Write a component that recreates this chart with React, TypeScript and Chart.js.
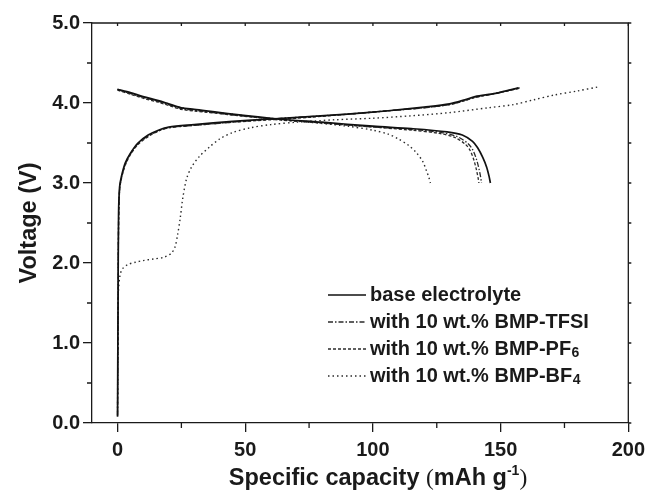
import { useEffect, useRef } from 'react';
import { Chart, registerables } from 'chart.js';

Chart.register(...registerables);

const FONT = '"Liberation Sans", Arial, Helvetica, sans-serif';
const INK = '#1a1a1a';

// Axis ticks
const capacityTicks = [0, 50, 100, 150, 200];
const capacityMinorTicks = [25, 75, 125, 175];
const voltageTicks = [0, 1, 2, 3, 4, 5];
const voltageMinorTicks = [0.5, 1.5, 2.5, 3.5, 4.5];

// Base electrolyte
const baseChargeCap = [0, 0.2, 0.4, 0.8, 1.5, 3, 5, 8, 12, 16, 20, 30, 45, 60, 75, 90, 105, 120, 130, 136, 140, 148, 157];
const baseChargeV = [0.08, 1.5, 2.6, 2.95, 3.08, 3.25, 3.37, 3.5, 3.6, 3.66, 3.7, 3.73, 3.77, 3.8, 3.83, 3.86, 3.9, 3.95, 3.99, 4.04, 4.08, 4.12, 4.19];
const baseDischargeCap = [0, 5, 10, 16, 20, 25, 30, 45, 63, 80, 100, 115, 129, 135, 139, 141, 143, 144.5, 145.5, 146];
const baseDischargeV = [4.17, 4.13, 4.08, 4.03, 3.99, 3.94, 3.92, 3.86, 3.8, 3.76, 3.71, 3.68, 3.64, 3.6, 3.52, 3.44, 3.32, 3.2, 3.08, 3.0];

// with 10 wt.% BMP-TFSI
const tfsiChargeCap = [0, 0.2, 0.4, 0.8, 1.5, 3, 5, 8, 12, 16, 20, 30, 45, 60, 75, 90, 105, 120, 130, 136, 140, 148, 157.5];
const tfsiChargeV = [0.1, 1.4, 2.5, 2.92, 3.06, 3.23, 3.36, 3.49, 3.59, 3.65, 3.69, 3.72, 3.76, 3.8, 3.83, 3.86, 3.9, 3.94, 3.98, 4.03, 4.07, 4.12, 4.19];
const tfsiDischargeCap = [0, 5, 10, 16, 20, 25, 30, 45, 63, 80, 100, 115, 127, 133, 137, 139, 140.5, 141.5, 142.2, 142.5];
const tfsiDischargeV = [4.17, 4.12, 4.07, 4.02, 3.98, 3.93, 3.91, 3.85, 3.8, 3.75, 3.7, 3.67, 3.63, 3.58, 3.5, 3.42, 3.3, 3.18, 3.07, 3.0];

// with 10 wt.% BMP-PF6
const pf6ChargeCap = [0, 0.2, 0.4, 0.8, 1.5, 3, 5, 8, 12, 16, 20, 30, 45, 60, 75, 90, 105, 120, 130, 136, 140, 148, 157];
const pf6ChargeV = [0.1, 1.3, 2.45, 2.9, 3.05, 3.22, 3.35, 3.48, 3.58, 3.65, 3.69, 3.72, 3.76, 3.79, 3.82, 3.86, 3.9, 3.94, 3.98, 4.03, 4.07, 4.12, 4.18];
const pf6DischargeCap = [0, 5, 10, 16, 20, 25, 30, 45, 63, 80, 100, 115, 126, 132, 136, 138, 139.5, 140.5, 141.2, 141.5];
const pf6DischargeV = [4.16, 4.11, 4.06, 4.01, 3.97, 3.92, 3.9, 3.85, 3.79, 3.75, 3.7, 3.66, 3.62, 3.57, 3.49, 3.41, 3.29, 3.17, 3.06, 3.0];

// with 10 wt.% BMP-BF4
const bf4ChargeCap = [0, 0.3, 1, 2, 4, 7, 10, 14, 18, 21, 22.5, 23.5, 24.5, 25.5, 27, 29, 32, 36, 40, 45, 52, 60, 70, 85, 100, 115, 130, 145, 155, 163, 171, 180, 188];
const bf4ChargeV = [0.08, 1.6, 1.85, 1.93, 1.98, 2.01, 2.03, 2.05, 2.07, 2.12, 2.2, 2.35, 2.55, 2.8, 3.05, 3.2, 3.33, 3.45, 3.55, 3.63, 3.69, 3.73, 3.76, 3.79, 3.81, 3.84, 3.88, 3.94, 3.98, 4.04, 4.1, 4.15, 4.2];
const bf4DischargeCap = [0, 10, 20, 30, 45, 60, 75, 90, 100, 106, 110, 114, 117, 119.5, 121, 122, 122.5];
const bf4DischargeV = [4.17, 4.07, 3.98, 3.91, 3.86, 3.8, 3.76, 3.71, 3.66, 3.61, 3.55, 3.47, 3.38, 3.27, 3.15, 3.06, 3.0];

const legendLabels = ['base electrolyte', 'with 10 wt.% BMP-TFSI', 'with 10 wt.% BMP-PF', 'with 10 wt.% BMP-BF'];
const legendSubscripts = ['', '', '6', '4'];

const styles = [
  { color: '#111111', width: 1.7, dash: [] as number[] },
  { color: '#2a2a2a', width: 1.3, dash: [5, 2, 1.5, 2] },
  { color: '#2a2a2a', width: 1.3, dash: [3, 2] },
  { color: '#2a2a2a', width: 1.4, dash: [1.5, 3] },
];

const pts = (c: number[], v: number[]) => c.map((x, i) => ({ x, y: v[i] }));

const seriesData = [
  [pts(baseChargeCap, baseChargeV), pts(baseDischargeCap, baseDischargeV)],
  [pts(tfsiChargeCap, tfsiChargeV), pts(tfsiDischargeCap, tfsiDischargeV)],
  [pts(pf6ChargeCap, pf6ChargeV), pts(pf6DischargeCap, pf6DischargeV)],
  [pts(bf4ChargeCap, bf4ChargeV), pts(bf4DischargeCap, bf4DischargeV)],
];

const decorPlugin = {
  id: 'decor',
  afterDraw(chart: any) {
    const ctx = chart.ctx as CanvasRenderingContext2D;
    const { left, right, top, bottom } = chart.chartArea;
    const xs = chart.scales.x;
    const ys = chart.scales.y;
    ctx.save();
    ctx.strokeStyle = INK;
    ctx.lineWidth = 1.3;
    // top and right frame
    ctx.beginPath();
    ctx.moveTo(left, top);
    ctx.lineTo(right, top);
    ctx.lineTo(right, bottom);
    ctx.stroke();
    // minor ticks (outside) left & bottom
    ctx.beginPath();
    voltageMinorTicks.forEach((v) => {
      const y = ys.getPixelForValue(v);
      ctx.moveTo(left - 5, y);
      ctx.lineTo(left, y);
    });
    capacityMinorTicks.forEach((c) => {
      const x = xs.getPixelForValue(c);
      ctx.moveTo(x, bottom);
      ctx.lineTo(x, bottom + 5);
    });
    // right ticks and top ticks (small)
    [...voltageTicks, ...voltageMinorTicks].forEach((v) => {
      const y = ys.getPixelForValue(v);
      ctx.moveTo(right, y);
      ctx.lineTo(right + 3, y);
    });
    [...capacityTicks, ...capacityMinorTicks].forEach((c) => {
      const x = xs.getPixelForValue(c);
      ctx.moveTo(x, top);
      ctx.lineTo(x, top + 3);
    });
    ctx.stroke();

    // Legend
    const rowY = [295, 322, 349, 376];
    legendLabels.forEach((label, i) => {
      const st = styles[i];
      const y = rowY[i];
      ctx.beginPath();
      ctx.strokeStyle = st.color;
      ctx.lineWidth = st.width;
      ctx.setLineDash(st.dash);
      ctx.moveTo(328, y);
      ctx.lineTo(366, y);
      ctx.stroke();
      ctx.setLineDash([]);
      ctx.fillStyle = INK;
      ctx.font = `bold 20px ${FONT}`;
      ctx.textBaseline = 'middle';
      ctx.textAlign = 'left';
      ctx.fillText(label, 370, y);
      if (legendSubscripts[i]) {
        const w = ctx.measureText(label).width;
        ctx.font = `bold 14px ${FONT}`;
        ctx.fillText(legendSubscripts[i], 370 + w + 0.5, y + 4);
      }
    });

    // Y title
    ctx.save();
    ctx.translate(30, (top + bottom) / 2);
    ctx.rotate(-Math.PI / 2);
    ctx.font = `bold 23.5px ${FONT}`;
    ctx.textAlign = 'center';
    ctx.textBaseline = 'middle';
    ctx.fillStyle = INK;
    ctx.fillText('Voltage (V)', 0, 0);
    ctx.restore();

    // X title with superscript
    const parts: { t: string; f: string; dy: number }[] = [
      { t: 'Specific capacity ', f: `bold 23.5px ${FONT}`, dy: 0 },
      { t: '(', f: `23.5px "Liberation Serif", "Times New Roman", serif`, dy: 0 },
      { t: 'mAh g', f: `bold 23.5px ${FONT}`, dy: 0 },
      { t: '-1', f: `bold 14px ${FONT}`, dy: -10 },
      { t: ')', f: `23.5px "Liberation Serif", "Times New Roman", serif`, dy: 0 },
    ];
    let total = 0;
    parts.forEach((p) => {
      ctx.font = p.f;
      total += ctx.measureText(p.t).width;
    });
    let x = 378 - total / 2;
    const by = 485;
    ctx.textAlign = 'left';
    ctx.textBaseline = 'alphabetic';
    parts.forEach((p) => {
      ctx.font = p.f;
      ctx.fillText(p.t, x, by + p.dy);
      x += ctx.measureText(p.t).width;
    });
    ctx.restore();
  },
};

export default function App() {
  const ref = useRef<HTMLCanvasElement>(null);
  useEffect(() => {
    if (!ref.current) return;
    const datasets: any[] = [];
    seriesData.forEach((pair, i) => {
      const st = styles[i];
      pair.forEach((data) => {
        datasets.push({
          label: legendLabels[i],
          data,
          showLine: true,
          borderColor: st.color,
          borderWidth: st.width,
          borderDash: st.dash,
          pointRadius: 0,
          fill: false,
          tension: 0.3,
        });
      });
    });
    const tickFont = { family: FONT, size: 20, weight: 'bold' as const };
    const chart = new Chart(ref.current, {
      type: 'scatter',
      data: { datasets },
      options: {
        responsive: false,
        animation: false,
        layout: { padding: { top: 23, right: 18, left: 0, bottom: 0 } },
        plugins: { legend: { display: false }, tooltip: { enabled: false } },
        scales: {
          x: {
            type: 'linear',
            min: -10,
            max: 200,
            afterBuildTicks: (s: any) => {
              s.ticks = capacityTicks.map((v) => ({ value: v }));
            },
            afterFit: (s: any) => {
              s.height = 68;
            },
            ticks: { font: tickFont, color: INK, padding: 6, maxRotation: 0, callback: (v: any) => String(v) },
            grid: { drawOnChartArea: false, drawTicks: true, tickLength: 9, color: INK, lineWidth: 1.3 },
            border: { display: true, color: INK, width: 1.3 },
          },
          y: {
            type: 'linear',
            min: 0,
            max: 5,
            afterBuildTicks: (s: any) => {
              s.ticks = voltageTicks.map((v) => ({ value: v }));
            },
            afterFit: (s: any) => {
              s.width = 92;
            },
            ticks: { font: tickFont, color: INK, padding: 3, callback: (v: any) => Number(v).toFixed(1) },
            grid: { drawOnChartArea: false, drawTicks: true, tickLength: 9, color: INK, lineWidth: 1.3 },
            border: { display: true, color: INK, width: 1.3 },
          },
        },
      },
      plugins: [decorPlugin],
    });
    return () => chart.destroy();
  }, []);
  return (
    <div style={{ position: 'absolute', left: 0, top: 0, width: 651, height: 491, background: '#fff' }}>
      <canvas ref={ref} width={651} height={491} style={{ width: 651, height: 491 }} />
    </div>
  );
}
